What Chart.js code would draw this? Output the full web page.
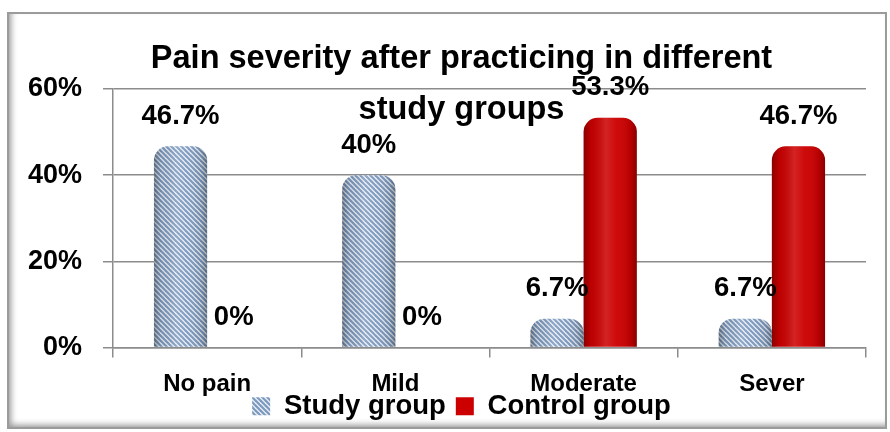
<!DOCTYPE html>
<html><head><meta charset="utf-8">
<script src="https://cdn.jsdelivr.net/npm/chart.js@4.4.1/dist/chart.umd.min.js"></script>
<style>
html,body{margin:0;padding:0;background:#fff;}
#frame{position:absolute;left:7px;top:12px;width:876px;height:413px;border:2px solid #9b9b9b;box-shadow: inset 7px 0 6px -5px #999, inset 0 -7px 6px -5px #999;}
#wrap{position:absolute;left:0;top:0;width:890px;height:432px;}
</style></head><body>
<div id="frame"></div>
<div id="wrap"><canvas id="c" width="890" height="432"></canvas></div>
<script>
const categories = ['No pain', 'Mild', 'Moderate', 'Sever'];
const studyGroup = [46.7, 40, 6.7, 6.7];
const controlGroup = [0, 0, 53.3, 46.7];
const seriesNames = ['Study group', 'Control group'];
const yTicks = [0, 20, 40, 60];
const titleLines = ['Pain severity after practicing in different', 'study groups'];

const FONT = "'Liberation Sans', Arial, sans-serif";
const GRID = '#8c8c8c';

function stripePattern() {
  const s = 5;
  const cv = document.createElement('canvas');
  cv.width = s; cv.height = s;
  const g = cv.getContext('2d');
  g.fillStyle = '#e6edf5';
  g.fillRect(0, 0, s, s);
  g.strokeStyle = '#7c98bd';
  g.lineWidth = 2.1;
  for (const k of [-s, 0, s]) {
    g.beginPath();
    g.moveTo(k - 1, -1);
    g.lineTo(k + s + 1, s + 1);
    g.stroke();
  }
  const ctx = document.getElementById('c').getContext('2d');
  return ctx.createPattern(cv, 'repeat');
}

// let axis label areas extend beyond their fitted boxes (avoid label clipping)
const axisAreaPlugin = {
  id: 'axisArea',
  afterLayout(chart) {
    const x = chart.scales.x;
    x.bottom = x.top + 60; x.height = 60;
    const y = chart.scales.y;
    y.left = 0; y.width = y.right;
  }
};

const cylinderPlugin = {
  id: 'cylinderAndLabels',
  afterDatasetsDraw(chart) {
    const ctx = chart.ctx;
    chart.data.datasets.forEach((ds, di) => {
      const meta = chart.getDatasetMeta(di);
      meta.data.forEach((el, i) => {
        const p = el.getProps(['x', 'y', 'base', 'width'], true);
        const h = p.base - p.y;
        if (h > 0.5) {
          const left = p.x - p.width / 2;
          const r = Math.min(14, p.width / 2, h);
          const g = ctx.createLinearGradient(left, 0, left + p.width, 0);
          g.addColorStop(0, 'rgba(0,0,0,0.32)');
          g.addColorStop(0.14, 'rgba(0,0,0,0.07)');
          g.addColorStop(0.42, 'rgba(255,255,255,0.14)');
          g.addColorStop(0.62, 'rgba(255,255,255,0.04)');
          g.addColorStop(0.88, 'rgba(0,0,0,0.10)');
          g.addColorStop(1, 'rgba(0,0,0,0.32)');
          ctx.save();
          ctx.beginPath();
          ctx.roundRect(left, p.y, p.width, h, [r, r, 0, 0]);
          ctx.fillStyle = g;
          ctx.fill();
          ctx.restore();
        }
      });
    });
    ctx.save();
    ctx.font = "bold 27.5px " + FONT;
    ctx.fillStyle = '#000';
    ctx.textAlign = 'center';
    ctx.textBaseline = 'middle';
    chart.data.datasets.forEach((ds, di) => {
      const meta = chart.getDatasetMeta(di);
      meta.data.forEach((el, i) => {
        const p = el.getProps(['x', 'y'], true);
        ctx.fillText(ds.data[i] + '%', p.x, p.y - 30);
      });
    });
    ctx.restore();
  }
};

new Chart(document.getElementById('c'), {
  type: 'bar',
  data: {
    labels: categories,
    datasets: [
      { label: seriesNames[0], data: studyGroup, backgroundColor: stripePattern(),
        borderRadius: 14, borderSkipped: 'start', categoryPercentage: 0.565, barPercentage: 1 },
      { label: seriesNames[1], data: controlGroup, backgroundColor: '#cc0000',
        borderRadius: 14, borderSkipped: 'start', categoryPercentage: 0.565, barPercentage: 1 }
    ]
  },
  options: {
    responsive: false,
    animation: false,
    devicePixelRatio: 1,
    layout: { padding: { left: 57, right: 24, top: 0, bottom: 2 } },
    scales: {
      y: {
        min: 0, max: 60,
        afterBuildTicks: s => { s.ticks = yTicks.map(v => ({ value: v })); },
        afterFit: s => { s.width = 56; },
        ticks: { callback: v => v + '%', font: { family: FONT, size: 27, weight: 'bold' }, color: '#000', padding: 21 },
        grid: { color: GRID, lineWidth: 1.5, tickLength: 10 },
        border: { color: GRID, width: 1.5 }
      },
      x: {
        afterFit: s => { s.height = 35; },
        ticks: { font: { family: FONT, size: 24, weight: 'bold' }, color: '#000', padding: 12 },
        grid: { drawOnChartArea: false, color: GRID, lineWidth: 1.5, tickLength: 10 },
        border: { color: GRID, width: 1.5 }
      }
    },
    plugins: {
      title: {
        display: true, text: titleLines, color: '#000',
        font: { family: FONT, size: 32.5, weight: 'bold', lineHeight: 1.569 },
        padding: { top: 33.5, bottom: -46.5 }
      },
      legend: {
        position: 'bottom',
        labels: { font: { family: FONT, size: 27.5, weight: 'bold' }, color: '#000', boxWidth: 18, boxHeight: 18, padding: 10 }
      },
      tooltip: { enabled: false }
    }
  },
  plugins: [axisAreaPlugin, cylinderPlugin]
});
</script>
</body></html>
